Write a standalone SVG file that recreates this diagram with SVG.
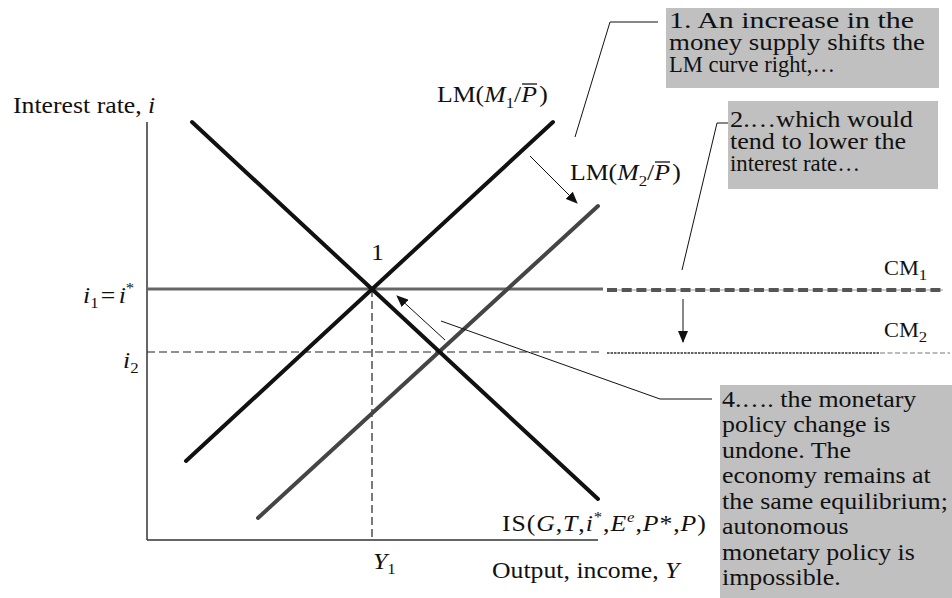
<svg xmlns="http://www.w3.org/2000/svg" width="952" height="598" viewBox="0 0 952 598">
<defs>
<style>
.t{font-family:"Liberation Serif","Times New Roman",serif;font-size:23px;fill:#111}
.b{font-family:"Liberation Serif","Times New Roman",serif;font-size:24px;fill:#111}
.it{font-style:italic}
.sub{font-size:15px}
.sm{font-size:20px}
.box{fill:#c0c0c0}
.axis{stroke:#333;stroke-width:1.5;fill:none}
.thick{stroke:#111;stroke-width:4;stroke-linecap:round;fill:none}
.lm2{stroke:#454545;stroke-width:4;stroke-linecap:round;fill:none}
.cm{stroke:#666;stroke-width:3;fill:none}
.dash{stroke:#222;stroke-width:1.2;stroke-dasharray:8 4;fill:none}
.lead{stroke:#111;stroke-width:1;fill:none}
.arr{stroke:#111;stroke-width:1;fill:none;marker-end:url(#ah)}
.bar{stroke:#111;stroke-width:1.3}
</style>
<marker id="ah" viewBox="0 0 12 10" refX="11" refY="5" markerWidth="12" markerHeight="10" markerUnits="userSpaceOnUse" orient="auto"><path d="M0,0L12,5L0,10z" fill="#111"/></marker>
</defs>
<rect width="952" height="598" fill="#fff"/>

<g id="axes">
<line class="axis" x1="147" y1="122" x2="147" y2="540"/>
<line class="axis" x1="147" y1="540" x2="598" y2="540"/>
<g transform="translate(13,113) scale(1.12,1)"><text class="t">Interest rate, <tspan class="it">i</tspan></text></g>
<g transform="translate(492,578) scale(1.12,1)"><text class="t">Output, income, <tspan class="it">Y</tspan></text></g>
</g>

<g id="guides">
<line class="dash" x1="372" y1="289" x2="372" y2="540"/>
<line class="dash" x1="147" y1="352" x2="603" y2="352"/>
<line x1="607" y1="353" x2="880" y2="353" stroke="#333" stroke-width="1.5" stroke-dasharray="2.5 1"/>
<line x1="880" y1="353" x2="950" y2="353" stroke="#777" stroke-width="1.2" stroke-dasharray="5 2.5"/>
</g>

<g id="CM1">
<line class="cm" x1="147" y1="289" x2="603" y2="289"/>
<line x1="607" y1="290" x2="943" y2="290" stroke="#ccc" stroke-width="2"/>
<line x1="607" y1="290" x2="943" y2="290" stroke="#555" stroke-width="4" stroke-dasharray="10 4.7"/>
<g transform="translate(884,275) scale(1.12,1)"><text class="t sm">CM<tspan class="sub" font-size="13" dy="5">1</tspan></text></g>
</g>
<g id="CM2">
<g transform="translate(884,337) scale(1.12,1)"><text class="t sm">CM<tspan class="sub" font-size="13" dy="5">2</tspan></text></g>
</g>

<g id="LM2">
<line class="lm2" x1="598" y1="206" x2="258" y2="518"/>
<g transform="translate(570,180) scale(1.12,1)"><text class="t">LM(<tspan class="it">M</tspan><tspan class="sub" dy="6">2</tspan><tspan dy="-6">/</tspan><tspan class="it">P</tspan><tspan dx="2">)</tspan></text></g>
<line class="bar" x1="655" y1="162" x2="670" y2="162"/>
</g>

<g id="LM1">
<line class="thick" x1="553" y1="122" x2="186" y2="461"/>
<g transform="translate(437,102) scale(1.12,1)"><text class="t">LM(<tspan class="it">M</tspan><tspan class="sub" dy="6">1</tspan><tspan dy="-6">/</tspan><tspan class="it">P</tspan><tspan dx="2">)</tspan></text></g>
<line class="bar" x1="522" y1="84" x2="537" y2="84"/>
</g>

<g id="IS">
<line class="thick" x1="192" y1="122" x2="598" y2="499"/>
<g transform="translate(502,531) scale(1.12,1)"><text class="t" textLength="182" lengthAdjust="spacing">IS(<tspan class="it">G</tspan>,<tspan class="it">T</tspan>,<tspan class="it">i</tspan><tspan class="sub" dy="-9">*</tspan><tspan dy="9">,</tspan><tspan class="it">E</tspan><tspan class="sub it" dy="-9">e</tspan><tspan dy="9">,</tspan><tspan class="it">P</tspan>*,<tspan class="it">P</tspan>)</text></g>
</g>

<g id="point1">
<g transform="translate(371,260) scale(1.12,1)"><text class="t">1</text></g>
</g>

<g id="rates">
<g transform="translate(83,303) scale(1.12,1)"><text class="t"><tspan class="it">i</tspan><tspan class="sub" dy="5">1</tspan><tspan dx="2" dy="-5">=</tspan><tspan class="it" dx="3">i</tspan><tspan class="sub" dy="-10">*</tspan></text></g>
<g transform="translate(123,368) scale(1.12,1)"><text class="t"><tspan class="it">i</tspan><tspan class="sub" dy="5">2</tspan></text></g>
<g transform="translate(373,569) scale(1.12,1)"><text class="t"><tspan class="it">Y</tspan><tspan class="sub" dy="5">1</tspan></text></g>
</g>

<g id="note1">
<rect class="box" x="666" y="8" width="273" height="80"/>
<text class="b" x="669" y="28" textLength="245" lengthAdjust="spacingAndGlyphs">1. An increase in the</text>
<text class="b" x="669" y="50" textLength="256" lengthAdjust="spacingAndGlyphs">money supply shifts the</text>
<text class="b" x="669" y="72" textLength="166" lengthAdjust="spacingAndGlyphs">LM curve right,…</text>
</g>

<g id="note2">
<rect class="box" x="728" y="101" width="210" height="88"/>
<text class="b" x="730" y="127" textLength="183" lengthAdjust="spacingAndGlyphs">2.…which would</text>
<text class="b" x="730" y="149" textLength="176" lengthAdjust="spacingAndGlyphs">tend to lower the</text>
<text class="b" x="730" y="171" textLength="130" lengthAdjust="spacingAndGlyphs">interest rate…</text>
</g>

<g id="note4">
<rect class="box" x="720" y="385" width="232" height="213"/>
<g transform="translate(722,0) scale(1.08,1)">
<text class="b" y="407">4.…. the monetary</text>
<text class="b" y="432.5">policy change is</text>
<text class="b" y="458">undone. The</text>
<text class="b" y="483.5">economy remains at</text>
<text class="b" y="509">the same equilibrium;</text>
<text class="b" y="534.5">autonomous</text>
<text class="b" y="560">monetary policy is</text>
<text class="b" y="585.5">impossible.</text>
</g>
</g>

<g id="connectors">
<line class="arr" x1="530" y1="156" x2="577" y2="203"/>
<line class="arr" x1="445" y1="340" x2="397" y2="296"/>
<line class="arr" x1="683" y1="299" x2="683" y2="342"/>
<polyline class="lead" points="658,22 610,22 575,137"/>
<polyline class="lead" points="728,123 717,123 682,270"/>
<polyline class="lead" points="441,321 660,399 712,399"/>
</g>
</svg>
